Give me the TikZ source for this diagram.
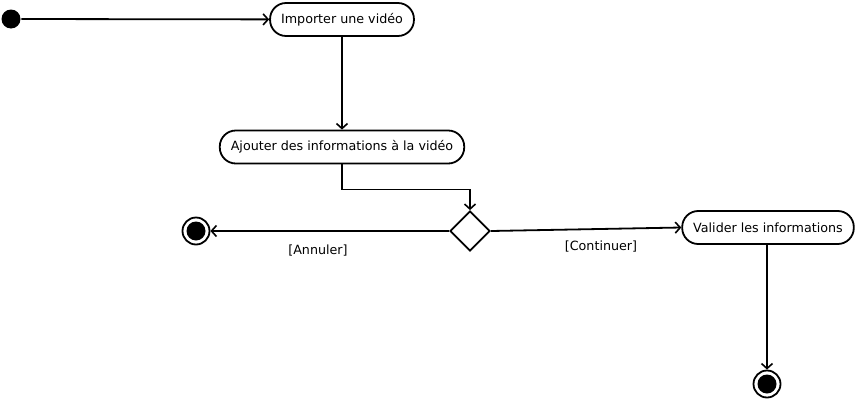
\documentclass[tikz,border=0pt]{standalone}
\usepackage{fontspec}
\setmainfont{DejaVu Sans}
\usepackage{tikz}
\usetikzlibrary{positioning,arrows.meta,shapes.geometric}

\begin{document}
\begin{tikzpicture}[
          x=1pt, y=-1pt,
          line width=1.8pt,
          >={Straight Barb[length=5pt,width=11pt,line width=1.6pt]},
          lbl/.style={font=\fontsize{12.7}{15}\selectfont},
          action/.style={draw, rectangle, rounded corners=16pt, minimum height=33pt,
                         inner xsep=11pt, fill=white, font=\fontsize{12.7}{15}\selectfont},
          debutstate/.style={circle, fill=black, minimum size=19pt, inner sep=0pt},
          finstate/.style={circle, draw, fill=white, minimum size=27pt, inner sep=0pt},
          choice/.style={diamond, draw, fill=white, minimum size=40pt, inner sep=0pt}
      ]
        \useasboundingbox (0,0) rectangle (855,402);
        \node[debutstate] (debut) at (11,19) {};
        \node[action] (importer) at (342,19.5) {Importer une vidéo};
        \node[action] (ajouter) at (342,147) {Ajouter des informations à la vidéo};
        \node[choice] (choix) at (470,231) {};
        \node[finstate] (finA) at (196,231) {};
        \fill (finA.center) circle (9.5pt);
        \node[action] (valider) at (768,227.5) {Valider les informations};
        \node[finstate] (finB) at (767,384) {};
        \fill (finB.center) circle (9.5pt);
        \draw[->] (debut) -- (importer);
        \draw[->] (importer) -- (ajouter);
        \draw[->] (ajouter.south) -- ++(0,25) -| (choix.north);
        \draw[->] (choix.west) -- (finA);
        \draw[->] (choix.east) -- (valider.west);
        \draw[->] (valider.south -| finB) -- (finB);
        \node[lbl] (annuler) at (318,251) {[Annuler]};
        \node[lbl] (continuer) at (601,247) {[Continuer]};
      \end{tikzpicture}
\end{document}
